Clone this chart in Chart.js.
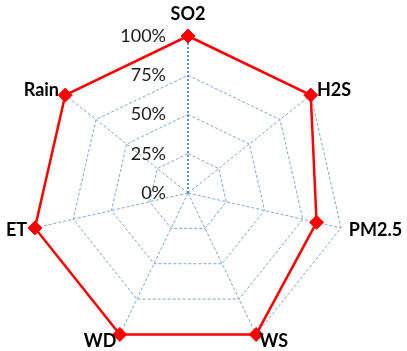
<!DOCTYPE html>
<html>
<head>
<meta charset="utf-8">
<script src="https://cdn.jsdelivr.net/npm/chart.js@4.4.1/dist/chart.umd.min.js"></script>
<style>
  html, body { margin: 0; padding: 0; background: #fff; }
  #wrap { width: 407px; height: 351px; }
</style>
</head>
<body>
<div id="wrap"><canvas id="radar" width="407" height="351"></canvas></div>
<script>
// categories, values (percent) and tick labels
const categories = ['SO2', 'H2S', 'PM2.5', 'WS', 'WD', 'ET', 'Rain'];
const values = [100, 100, 84, 100, 100, 100, 100];
const tickValues = [0, 25, 50, 75, 100];
const tickLabels = ['0%', '25%', '50%', '75%', '100%'];

const gridBlue = '#7ba6dc';

// % tick labels sit to the left of the vertical axis, category labels next to the corners
const labelsPlugin = {
  id: 'labelsPlugin',
  afterDraw(chart) {
    const scale = chart.scales.r;
    const ctx = chart.ctx;
    ctx.save();
    ctx.font = '18px Lato';
    ctx.fillStyle = '#1a1a1a';
    ctx.textAlign = 'right';
    ctx.textBaseline = 'middle';
    tickValues.forEach((v, i) => {
      const d = scale.getDistanceFromCenterForValue(v);
      ctx.fillText(tickLabels[i], scale.xCenter - 22, scale.yCenter - d);
    });

    ctx.font = 'bold 18px Lato';
    ctx.fillStyle = '#000';
    categories.forEach((name, i) => {
      const p = scale.getPointPosition(i, scale.drawingArea + 8);
      const dx = p.x - scale.xCenter;
      if (Math.abs(dx) < 2) {
        ctx.textAlign = 'center';
        ctx.fillText(name, p.x, scale.yCenter - scale.drawingArea - 22);
      } else {
        ctx.textAlign = dx > 0 ? 'left' : 'right';
        ctx.fillText(name, p.x, p.y);
      }
    });
    ctx.restore();
  }
};

const ctx = document.getElementById('radar').getContext('2d');
new Chart(ctx, {
  type: 'radar',
  data: {
    labels: categories,
    datasets: [{
      label: 'Series',
      data: values,
      borderColor: '#ff0000',
      backgroundColor: 'rgba(0,0,0,0)',
      borderWidth: 2.5,
      fill: false,
      pointStyle: 'rectRot',
      pointRadius: 7,
      pointHoverRadius: 7,
      pointBackgroundColor: '#ff0000',
      pointBorderColor: '#ff0000',
      pointBorderWidth: 1
    }]
  },
  options: {
    responsive: false,
    animation: false,
    layout: { padding: { left: 31, right: 62, top: 36, bottom: 1 } },
    plugins: {
      legend: { display: false },
      tooltip: { enabled: false }
    },
    scales: {
      r: {
        min: 0,
        max: 100,
        ticks: { stepSize: 25, display: false },
        grid: {
          color: gridBlue,
          lineWidth: 1
        },
        border: { dash: [3, 2] },
        angleLines: {
          color: (c) => c.index === 0 ? '#4f86cc' : gridBlue,
          lineWidth: (c) => c.index === 0 ? 1.8 : 1,
          borderDash: (c) => c.index === 0 ? [2, 2] : [3, 2]
        },
        pointLabels: { display: false }
      }
    }
  },
  plugins: [labelsPlugin]
});
</script>
</body>
</html>
